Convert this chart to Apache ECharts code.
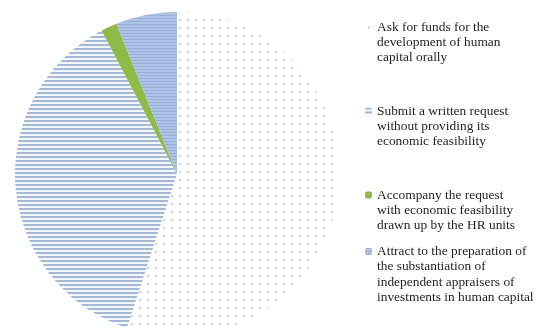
<!DOCTYPE html>
<html>
<head>
<meta charset="utf-8">
<script src="https://cdn.jsdelivr.net/npm/echarts@6/dist/echarts.min.js"></script>
<style>
  html, body { margin: 0; padding: 0; background: #fff; }
  #chart { width: 536px; height: 331px; }
</style>
</head>
<body>
<div id="chart"></div>
<script>
// Ways of requesting funding for human capital development (share of answers, %)
const categories = [
  'Ask for funds for the development of human capital orally',
  'Submit a written request without providing its economic feasibility',
  'Accompany the request with economic feasibility drawn up by the HR units',
  'Attract to the preparation of the substantiation of independent appraisers of investments in human capital'
];
const shares = [55, 37.3, 1.6, 6.1];
// Legend text broken into lines
const legendLines = [
  ['Ask for funds for the', 'development of human', 'capital orally'],
  ['Submit a written request', 'without providing its', 'economic feasibility'],
  ['Accompany the request', 'with economic feasibility', 'drawn up by the HR units'],
  ['Attract to the preparation of', 'the substantiation of', 'independent appraisers of', 'investments in human capital']
];
// Vertical centre of the first line of each legend entry
const firstLineY = [27, 111, 195, 251.5];

// Tile patterns used to fill the slices
function tile(w, h, draw) {
  const c = document.createElement('canvas');
  c.width = w; c.height = h;
  draw(c.getContext('2d'));
  return { image: c, repeat: 'repeat' };
}
const dotted = tile(8, 8, g => {
  g.fillStyle = '#ffffff'; g.fillRect(0, 0, 8, 8);
  g.fillStyle = '#c9d3e1'; g.fillRect(3, 3, 2, 2);
});
const striped = tile(4, 4, g => {
  g.fillStyle = '#f4f7fb'; g.fillRect(0, 0, 4, 4);
  g.fillStyle = '#a4b8da'; g.fillRect(0, 0, 4, 2);
});
const shaded = tile(4, 3, g => {
  g.fillStyle = '#aec3e6'; g.fillRect(0, 0, 4, 3);
  g.fillStyle = '#97aed6'; g.fillRect(0, 0, 4, 1);
});
const fills = [dotted, striped, '#8fba45', shaded];

const lh = 15.3;
// The legend centres its text block on the marker, so blank lines are put
// above each entry to bring the first real line level with the marker.
const legends = categories.map((name, i) => {
  const n = legendLines[i].length;
  const text = '\n'.repeat(n - 1) + legendLines[i].join('\n');
  return {
    data: [name],
    orient: 'vertical',
    left: 360,
    top: firstLineY[i] - (n - 1) * lh - lh / 2 - 5,
    itemWidth: 7,
    itemHeight: 7,
    itemGap: 0,
    selectedMode: false,
    formatter: () => text,
    textStyle: {
      fontFamily: '"Liberation Serif", "Times New Roman", serif',
      fontSize: 13.4,
      color: '#1e1e1e',
      lineHeight: lh
    }
  };
});

const chart = echarts.init(document.getElementById('chart'), null, { renderer: 'canvas' });
chart.setOption({
  animation: false,
  backgroundColor: '#ffffff',
  legend: legends,
  series: [{
    type: 'pie',
    center: [177, 174],
    radius: 162,
    startAngle: 90,
    clockwise: true,
    label: { show: false },
    labelLine: { show: false },
    emphasis: { disabled: true },
    itemStyle: { borderWidth: 0 },
    data: categories.map((name, i) => ({
      name,
      value: shares[i],
      itemStyle: { color: fills[i] }
    }))
  }]
});
</script>
</body>
</html>
